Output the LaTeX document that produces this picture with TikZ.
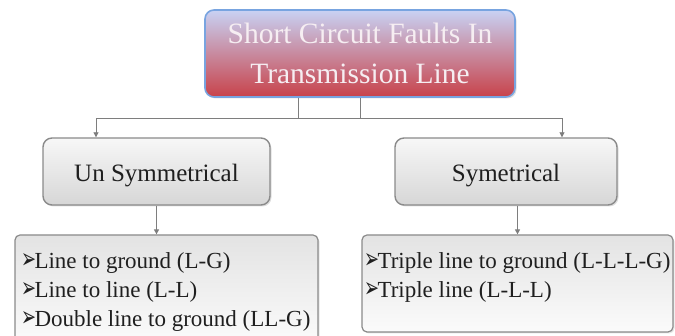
\documentclass[tikz,border=0pt]{standalone}
\usepackage{fontspec}
\setmainfont{Liberation Serif}
\newfontfamily\dejavu{DejaVu Sans}
\usetikzlibrary{positioning,arrows.meta,shadows}

\definecolor{headblue}{HTML}{78A4E0}
\definecolor{headtop}{HTML}{C8D2F4}
\definecolor{headmid}{HTML}{8E6E96}
\definecolor{headbot}{HTML}{C8424A}
\definecolor{headtext}{HTML}{F6EEF2}
\definecolor{boxedge}{HTML}{8A8A8A}
\definecolor{conngray}{HTML}{7E7E7E}

\newcommand\pointer{\resizebox{15pt}{15pt}{\dejavu ➢}\hspace{-1.5pt}}

\begin{document}
\begin{tikzpicture}[x=1pt, y=1pt,
  every node/.style={inner sep=0pt},
  headbox/.style={draw=headblue, line width=1.6pt, rounded corners=9pt,
    top color=headtop, middle color=headmid, bottom color=headbot,
    minimum width=310pt, minimum height=87pt, align=center,
    font=\fontsize{29.5}{40}\selectfont, text=headtext,
    drop shadow={opacity=0.25, shadow xshift=1.5pt, shadow yshift=-1.5pt}},
  kindbox/.style={draw=boxedge, line width=1.4pt, rounded corners=9pt,
    top color=gray!6, bottom color=gray!32, minimum height=67pt,
    text height=21pt, text depth=0pt,
    font=\fontsize{25}{30}\selectfont, text=black!88,
    drop shadow={opacity=0.25, shadow xshift=1.5pt, shadow yshift=-1.5pt}},
  listbox/.style={draw=boxedge, line width=1.2pt, rounded corners=5pt,
    top color=gray!22, bottom color=gray!3, inner ysep=13.7pt,
    font=\fontsize{23}{29}\selectfont, text=black!88,
    drop shadow={opacity=0.2, shadow xshift=1.5pt, shadow yshift=-1.5pt}},
  arr/.style={-{Triangle[width=5pt, length=5pt]}, draw=conngray, line width=0.9pt},
]
\useasboundingbox (0,0) rectangle (675,336);

% Title
\node (top) [headbox] at (360,282.5) {Short Circuit Faults In\\Transmission Line};

% Fault kinds
\node (un) [kindbox, minimum width=227pt] at (156.5,164.5) {Un Symmetrical};
\node (sym) [kindbox, minimum width=222pt] at (506,164.5) {Symetrical};
\draw[arr] (top.south) -- ++(0,-21) -| ([xshift=-60.5pt]un.north);
\draw[arr] ([xshift=-62pt]top.south) -- ++(0,-21) -| ([xshift=56pt]sym.north);

% Fault lists
\node (ulist) [listbox, inner xsep=6pt] at (166.5,46)
  {\parbox[c][82.6pt][t]{291pt}{\raggedright\strut\pointer Line to ground (L-G)\\
   \pointer Line to line (L-L)\\
   \pointer Double line to ground (LL-G)}};
\node (slist) [listbox, inner xsep=2pt] at (517.5,52.5)
  {\parbox[c][69.6pt][t]{307pt}{\raggedright\strut\pointer Triple line to ground (L-L-L-G)\\
   \pointer Triple line (L-L-L)}};
\draw[arr] (un.south) -- (un.south |- ulist.north);
\draw[arr] (sym.south -| slist.north) -- (slist.north);

\end{tikzpicture}
\end{document}
